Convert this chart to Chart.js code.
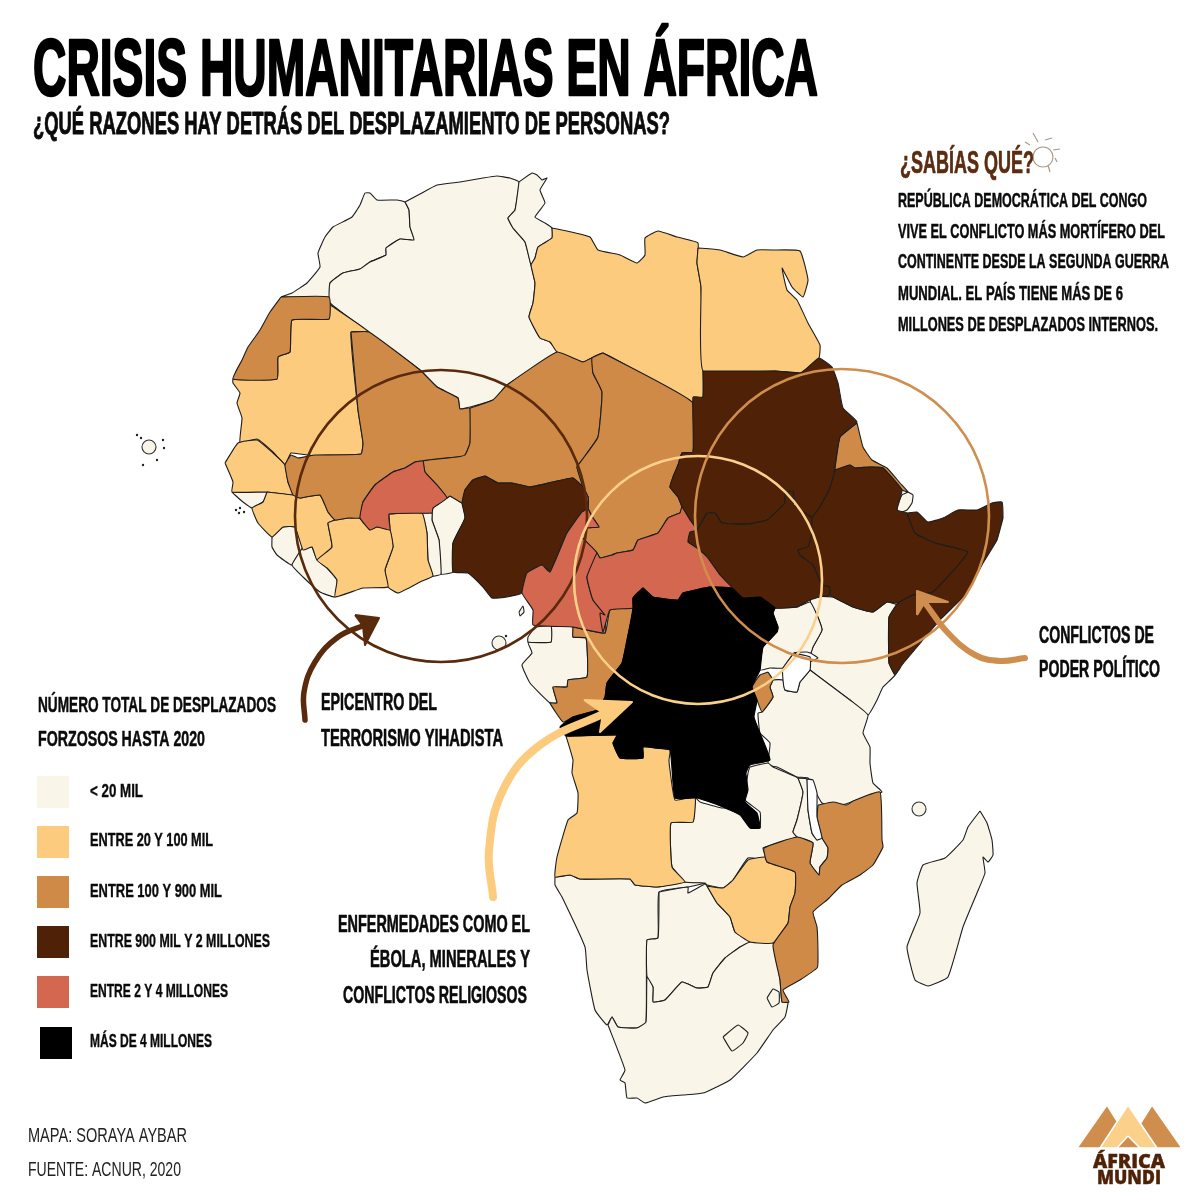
<!DOCTYPE html>
<html lang="es"><head><meta charset="utf-8"><title>Crisis humanitarias en África</title>
<style>html,body{margin:0;padding:0;background:#fff}canvas{display:block}</style>
<script src="https://cdn.jsdelivr.net/npm/chart.js@4"></script></head>
<body><canvas id="c" width="1200" height="1200"></canvas>
<script>
// ---- Map outlines, as x,y pairs in map units ----
const morocco=[281,297,292,293,307,283,320,267,318,253,325,237,333,227,352,217,360,205,365,193,370,193,377,200,397,200,405,202,409,210,410,227,414,240,400,239,386,248,386,255,370,262,360,269,343,273,330,283,329,297];
const algeria=[405,202,420,194,437,185,460,182,483,178,497,176,510,178,519,182,515,210,508,218,513,228,525,242,531,265,535,283,533,303,529,317,540,338,550,342,557,352,507,385,493,400,460,409,458,398,437,387,420,370,330,303,330,283,343,273,360,269,370,262,386,255,386,248,400,239,414,240,410,227,409,210];
const tunisia=[519,182,532,173,537,175,542,180,547,178,540,190,545,203,535,217,545,223,552,228,552,238,538,247,535,258,531,265,525,242,513,228,508,218,515,210];
const libya=[552,228,567,231,590,237,598,250,620,255,637,263,645,255,645,238,658,231,677,237,698,243,697,263,701,287,703,397,692,402,603,353,583,362,557,352,550,342,540,338,529,317,533,303,535,283,531,265,535,258,538,247,552,238];
const egypt=[698,248,720,250,743,257,757,250,773,250,800,251,808,280,803,297,792,287,782,268,787,290,797,300,808,323,820,345,819,358,805,370,800,373,775,371,703,371,701,287,697,263];
const sudan=[703,371,775,371,800,373,805,370,819,358,832,367,838,383,843,408,857,422,840,437,835,468,830,488,820,507,812,518,800,530,793,491,785,493,785,503,767,520,747,524,722,523,715,513,707,513,697,530,690,520,682,507,678,497,670,487,673,477,678,465,682,453,693,452,693,397,703,397];
const southSudan=[707,513,715,513,722,523,747,524,767,520,785,503,785,493,793,491,794,505,812,518,812,533,808,547,798,550,800,555,813,565,822,585,830,587,830,595,820,597,810,600,797,607,775,608,760,598,743,598,732,588,720,575,707,557,697,548,688,542,690,532,697,530];
const ethiopia=[835,470,850,465,855,468,870,467,883,468,902,490,897,510,907,513,915,533,935,543,968,552,933,592,913,595,898,603,887,602,873,612,853,607,833,597,830,595,830,587,822,585,813,565,800,555,798,550,808,547,812,533,812,518,820,507,830,488];
const eritrea=[857,423,863,447,872,460,887,468,900,483,908,492,902,490,883,468,870,467,855,468,850,465,835,470,840,437];
const djibouti=[908,492,913,495,912,503,907,510,898,513,897,507,902,495];
const somalia=[907,513,917,512,928,522,943,518,958,510,977,510,992,503,1002,502,1003,518,1002,522,997,540,983,563,967,593,940,620,917,647,902,665,895,675,889,663,889,617,898,603,913,595,933,592,968,552,935,543,915,533];
const kenya=[812,596,833,597,853,607,873,612,887,602,897,605,889,617,889,663,895,675,883,687,877,700,868,715,850,700,810,670,810,662,818,658,811,653,813,647,822,630,817,615,810,603];
const uganda=[775,608,797,607,810,602,817,615,822,630,813,647,811,653,807,652,794,653,783,668,770,668,760,670,763,647,777,632,778,627,773,613];
const lakeVictoria=[794,653,810,657,810,670,800,682,797,692,785,690,783,680,783,668];
const rwandaBurundi=[768,672,773,680,770,687,773,697,762,712,757,700,752,687,760,675];
const tanzania=[810,670,850,700,868,715,863,733,870,747,870,763,873,783,882,792,857,800,842,805,822,803,808,778,797,777,777,767,768,765,770,743,760,733,758,713,762,712,773,697,770,687,773,680,783,680,785,690,797,692,800,682];
const drc=[643,588,653,597,678,600,683,593,710,587,732,588,743,598,760,597,775,608,773,613,778,627,777,632,763,647,760,670,752,687,757,700,754,717,760,733,770,760,750,765,746,773,748,790,745,802,757,813,760,828,750,828,740,815,718,805,697,798,675,798,670,750,655,748,643,747,643,758,620,758,613,743,617,735,566,736,560,727,573,717,597,710,605,697,607,683,622,663,627,640,633,608,633,598];
const congo=[573,627,605,633,610,610,633,608,627,640,622,663,607,683,605,697,597,710,573,717,563,722,550,703,557,703,553,687,567,687,568,680,587,677,586,638,573,637];
const gabon=[551,626,573,627,573,637,586,638,587,677,568,680,567,687,553,687,557,703,550,703,530,683,522,665,532,653,528,642,551,642];
const eqGuinea=[535,627,551,626,551,642,528,642,528,637];
const bioko=[519,612,523,606,524,612,520,616];
const cameroon=[583,487,588,497,588,508,593,518,599,527,587,528,582,537,597,553,587,577,593,600,605,615,605,633,573,627,533,625,533,610,522,593,527,573,542,565,550,572,567,533,582,512,588,508];
const nigeria=[485,476,498,483,512,483,530,487,553,482,573,478,583,487,588,497,588,508,582,512,567,533,550,572,542,565,527,573,522,593,507,597,492,598,483,587,468,573,453,572,453,543,465,518,462,503,465,490,473,480];
const benin=[450,496,462,503,465,518,453,543,453,572,441,574,439,540,432,520,433,508,447,498];
const togo=[422,513,432,513,432,520,439,540,441,574,433,576,428,560,427,533];
const ghana=[389,514,422,513,427,533,428,560,433,576,420,582,398,593,388,587,385,570,393,547,390,530];
const burkina=[415,462,423,461,425,472,437,485,447,498,433,508,432,513,389,514,390,530,377,527,370,530,360,518,363,502,375,485,393,472,405,468];
const mali=[351,332,369,332,420,370,437,387,458,398,460,409,470,408,470,443,465,455,457,457,423,461,415,462,405,468,393,472,375,485,363,502,360,518,348,518,335,520,328,512,320,495,300,498,293,495,288,482,285,465,291,455,298,458,315,455,361,454,363,443,358,410];
const mauritania=[329,304,369,332,351,332,358,410,363,443,361,454,315,456,307,455,291,453,285,465,273,452,257,439,240,443,242,418,237,403,240,393,233,383,233,379,277,379,278,357,290,352,292,320,329,319];
const westernSahara=[281,297,329,297,329,319,292,320,290,352,278,357,277,379,233,379,242,360,248,347,260,330,270,312];
const senegal=[225,463,238,443,257,440,273,453,285,465,288,482,293,495,267,492,232,492,233,482];
const gambia=[233,481,263,482,257,476,245,478,233,477];
const guineaBissau=[232,492,267,492,263,502,252,508,243,502,235,495];
const guinea=[267,492,293,495,300,498,320,495,328,512,335,520,328,523,332,547,317,560,312,547,303,550,295,527,283,527,272,537,258,523,252,508,263,502];
const sierraLeone=[272,537,283,527,295,527,303,547,292,565,277,555,272,547];
const liberia=[303,547,312,547,317,560,327,568,337,580,335,597,320,592,303,577,292,565];
const ivoryCoast=[335,520,348,518,360,518,370,530,377,527,390,530,393,547,385,570,388,587,363,588,335,597,337,580,327,568,317,560,332,547,328,523];
const niger=[470,408,493,400,507,385,557,352,583,362,592,358,593,373,602,392,598,437,582,460,577,467,583,487,573,478,553,482,530,487,512,483,498,483,485,476,473,480,465,490,462,503,450,496,447,498,437,485,425,472,423,461,457,457,465,455,470,443];
const chad=[603,353,692,402,693,452,682,453,678,465,673,477,670,487,678,497,682,507,680,513,668,518,658,533,638,540,633,550,617,553,612,555,600,558,597,553,582,537,587,528,599,527,593,518,588,508,588,497,583,487,577,467,582,460,598,437,602,392,593,373,592,358];
const car=[680,513,682,507,690,520,697,530,690,532,688,542,697,548,707,557,720,575,732,588,710,587,683,593,678,600,653,597,643,588,633,598,633,608,610,610,603,632,600,613,605,615,593,600,587,577,597,553,600,558,612,555,617,553,633,550,638,540,658,533,668,518];
const angola=[566,736,617,735,613,743,620,758,643,758,643,747,655,748,670,750,669,760,670,770,675,800,695,797,693,822,671,823,672,867,685,882,657,887,635,885,630,879,580,879,570,875,555,877,557,857,568,820,577,813,578,793,572,773,573,760];
const namibia=[555,877,570,875,580,879,630,879,635,885,657,887,685,882,705,883,688,887,659,892,658,938,647,940,646,1022,637,1028,618,1027,612,1017,607,1025,595,1010,587,970,585,947,562,897,555,885];
const botswana=[659,892,688,887,688,893,705,884,707,886,717,903,730,917,735,932,750,942,740,947,725,958,713,973,708,987,697,988,682,982,665,1000,653,1002,653,987,647,977,647,940,658,938];
const zimbabwe=[707,886,723,888,733,880,748,860,765,857,767,862,795,872,795,893,790,907,788,923,773,943,750,942,735,932,730,917,717,903];
const zambia=[695,797,700,802,722,808,737,808,748,815,753,828,760,828,760,812,745,800,748,773,750,767,768,763,773,767,798,778,803,792,797,820,793,832,797,837,763,848,767,860,748,858,733,880,723,888,707,885,705,883,685,882,672,867,671,823,693,822];
const malawi=[798,778,807,779,808,810,812,833,817,840,822,838,828,848,827,858,820,867,819,875,810,863,813,843,797,837,793,832,797,820,803,792];
const lakeMalawi=[807,779,813,780,817,793,817,817,822,838,817,840,812,833,808,810];
const mozambique=[818,805,833,802,847,805,853,801,880,792,882,840,883,847,873,865,860,875,842,885,827,900,813,912,817,927,818,960,817,968,800,980,783,990,789,1002,782,1002,780,980,773,945,788,923,790,907,795,893,795,872,767,862,764,848,797,837,813,843,810,863,819,875,820,867,827,858,828,848,822,838,817,817];
const southAfrica=[608,1025,612,1017,618,1027,637,1028,646,1022,647,977,653,987,653,1002,665,1000,682,982,697,988,708,987,713,973,725,958,740,947,750,942,773,943,780,980,782,1002,788,1002,785,1017,773,1030,757,1053,730,1080,703,1093,683,1095,663,1097,645,1103,637,1098,627,1098,625,1083,620,1080,625,1070];
const eswatini=[767,998,773,989,779,992,779,1003,772,1007];
const lesotho=[723,1037,738,1025,748,1033,743,1043,732,1051];
const madagascar=[980,811,987,823,992,840,993,855,988,862,983,857,985,873,977,893,963,927,948,977,928,986,915,980,907,947,920,913,917,883,923,865,945,858,963,840,968,827];

// ---- Countries by displacement class ----
const classPale=[morocco,algeria,tunisia,djibouti,kenya,uganda,tanzania,gabon,eqGuinea,bioko,benin,togo,gambia,guineaBissau,sierraLeone,liberia,namibia,botswana,zambia,malawi,southAfrica,eswatini,lesotho,madagascar];
const classLight=[libya,egypt,ghana,mauritania,senegal,guinea,ivoryCoast,angola,zimbabwe];
const classMid=[eritrea,rwandaBurundi,congo,mali,westernSahara,niger,chad,mozambique];
const classDark=[sudan,southSudan,ethiopia,somalia,nigeria];
const classRed=[cameroon,burkina,car];
const classBlack=[drc];
const lakes=[lakeVictoria,lakeMalawi];
const smallIslands=[[149,447],[919,809],[499,643]];
const tinyIslands=[[137,435],[141,438],[163,440],[164,448],[157,460],[143,465],[506,636],[240,508],[236,510],[244,512],[239,513]];

// ---- Legend ----
const legendLabels=["< 20 MIL","ENTRE 20 Y 100 MIL","ENTRE 100 Y 900 MIL","ENTRE 900 MIL Y 2 MILLONES","ENTRE 2 Y 4 MILLONES","MÁS DE 4 MILLONES"];
const legendColors=["#F9F5E9","#FDCB7E","#CF8A47","#4F2207","#D4674F","#000000"];
const legendSwatchX=[53,53,53,53,53,56];
const legendSwatchY=[792,842,892,942,992,1043];

// ---- Circles ----
const circleCentres=[[441,516],[698,580],[842,516]];
const circleRadii=[146,124,147];
const circleColors=["#5A2A0C","#FAD08A","#CF8E4E"];

// ---- Arrows: shaft and head ----
const arrowBrownShaft=[[305,720],[304,692],[315,662],[338,637],[365,625]];
const arrowBrownHead=[[355,615],[379,618],[365,645],[363,626]];
const arrowOrangeShaft=[[1025,658],[1000,661],[975,655],[948,633],[925,603]];
const arrowOrangeHead=[[917,615],[917,591],[948,602],[925,602]];
const arrowYellowShaft=[[493,897],[489,850],[503,790],[540,745],[605,713]];
const arrowYellowHead=[[584,700],[632,702],[600,732],[603,713]];

// ---- Logo and lightbulb ----
const logoLeft=[[1107,1105],[1134,1148],[1077,1148]];
const logoRight=[[1152,1105],[1182,1148],[1125,1148]];
const logoMiddle=[[1128,1105],[1157,1148],[1100,1148]];
const logoInner=[[1128,1136],[1140,1148],[1117,1148]];
const bulbRays=[[[1033,133],[1038,142]],[[1045,140],[1052,138]],[[1053,150],[1060,149]],[[1055,158],[1057,162]],[[1048,165],[1050,172]],[[1025,142],[1030,145]]];

// ---- Texts ----
const texts=["CRISIS HUMANITARIAS EN ÁFRICA","¿QUÉ RAZONES HAY DETRÁS DEL DESPLAZAMIENTO DE PERSONAS?","¿SABÍAS QUÉ?","REPÚBLICA DEMOCRÁTICA DEL CONGO","VIVE EL CONFLICTO MÁS MORTÍFERO DEL","CONTINENTE DESDE LA SEGUNDA GUERRA","MUNDIAL. EL PAÍS TIENE MÁS DE 6","MILLONES DE DESPLAZADOS INTERNOS.","NÚMERO TOTAL DE DESPLAZADOS","FORZOSOS HASTA 2020","EPICENTRO DEL","TERRORISMO YIHADISTA","CONFLICTOS DE","PODER POLÍTICO","ENFERMEDADES COMO EL","ÉBOLA, MINERALES Y","CONFLICTOS RELIGIOSOS","MAPA: SORAYA AYBAR","FUENTE: ACNUR, 2020"];
// x start, x end, baseline, cap height, stroke weight, colour
const dark="#0b0b0b", brown="#5B2C0F", plain="#222";
const textLayout=[[33,818,95,58,2.6,"#000"],[33,670,134,22,.9,dark],[900,1034,173,23,.7,brown],[898,1147,207,15,.5,dark],[898,1165,238,15,.5,dark],[898,1169,268,15,.5,dark],[898,1123,300,15,.5,dark],[898,1158,331,15,.5,dark],[38,276,712,15.5,.5,dark],[38,205,746,15.5,.5,dark],[321,437,710,17,.6,dark],[321,503,746,17,.6,dark],[1039,1154,643,17,.6,dark],[1039,1160,677,17,.6,dark],[338,530,932,17,.6,dark],[370,530,967,17,.6,dark],[343,527,1003,17,.6,dark],[28,187,1142,15,0,plain],[28,181,1176,15,0,plain]];
const legendLabelLayout=[[90,143,797],[90,213,846],[90,222,897],[90,270,947],[90,228,997],[90,212,1047]];
const logoTexts=["ÁFRICA","MUNDI"];
const logoTextLayout=[[1093,1165,1168,14],[1097,1161,1184,14]];

const pts=a=>a.map(p=>({x:p[0],y:p[1]}));
function ring(flat){const r=[];for(let i=0;i<flat.length;i+=2)r.push({x:flat[i],y:flat[i+1]});r.push({x:flat[0],y:flat[1]});return r;}
const base={showLine:false,pointRadius:0,pointHoverRadius:0,tension:0};
function polyDs(data,color,border,bw,tension){return {...base,data,showLine:true,fill:'shape',backgroundColor:color,borderColor:border,borderWidth:bw,borderJoinStyle:'round',tension:tension||0};}
const paint=[];
[[classPale,0],[classLight,1],[classMid,2],[classDark,3],[classRed,4],[classBlack,5]].forEach(([list,k])=>list.forEach(f=>paint.push(polyDs(ring(f),legendColors[k],k==5?'#000':'#1d1d1d',1.1,.12))));
lakes.forEach(f=>paint.push(polyDs(ring(f),'#fff','#1d1d1d',1.1,.12)));
paint.push({...base,data:pts(smallIslands),pointRadius:7,pointBackgroundColor:'#F9F5E9',pointBorderColor:'#333',pointBorderWidth:1.1});
paint.push({...base,data:pts(tinyIslands),pointRadius:1.2,pointBackgroundColor:'#222',pointBorderColor:'#222',pointBorderWidth:0});
circleCentres.forEach((c,i)=>paint.push({...base,data:pts([c]),pointRadius:circleRadii[i],pointBackgroundColor:'rgba(0,0,0,0)',pointBorderColor:circleColors[i],pointBorderWidth:2.6}));
function arrow(sh,hd,col,w){
 paint.push({...base,data:pts(sh),showLine:true,tension:.4,borderColor:col,borderWidth:w,borderCapStyle:'round',fill:false});
 paint.push(polyDs(pts([...hd,hd[0]]),col,col,2));
}
arrow(arrowBrownShaft,arrowBrownHead,'#5A2A0C',5.5);
arrow(arrowOrangeShaft,arrowOrangeHead,'#CF8E4E',6);
arrow(arrowYellowShaft,arrowYellowHead,'#FDCB7E',8);
legendColors.forEach((c,i)=>paint.push({...base,data:[{x:legendSwatchX[i],y:legendSwatchY[i]}],pointStyle:'rect',pointRadius:22.6,pointBackgroundColor:c,pointBorderWidth:0,label:legendLabels[i]}));
paint.push(polyDs(pts([...logoLeft,logoLeft[0]]),'#CF8E4E','#fff',1.5));
paint.push(polyDs(pts([...logoRight,logoRight[0]]),'#CF8E4E','#fff',1.5));
paint.push(polyDs(pts([...logoMiddle,logoMiddle[0]]),'#FAD08A','#fff',1.5));
paint.push(polyDs(pts([...logoInner,logoInner[0]]),'#CF8E4E','#fff',1.5));
bulbRays.forEach(r=>paint.push({...base,data:pts(r),showLine:true,borderColor:'#a99a8c',borderWidth:1.2,fill:false}));
paint.push({...base,data:[{x:1043,y:157}],pointRadius:10,pointBackgroundColor:'rgba(0,0,0,0)',pointBorderColor:'#a99a8c',pointBorderWidth:1.2});

function fit(ctx,t,x0,x1,base,cap,sw,col,fam,w){
 const size=cap/0.72; ctx.save(); ctx.font=(w||'bold')+' '+size+'px '+fam; ctx.textBaseline='alphabetic';ctx.textAlign='left';
 const m=ctx.measureText(t).width; ctx.translate(x0,base); ctx.scale((x1-x0)/m,1);
 ctx.fillStyle=col; ctx.fillText(t,0,0);
 if(sw>0){ctx.strokeStyle=col;ctx.lineWidth=sw;ctx.lineJoin='round';ctx.strokeText(t,0,0);}
 ctx.restore();
}
const narrow='"Liberation Sans Narrow","Liberation Sans",sans-serif';
const textPlugin={id:'texts',afterDatasetsDraw(ch){const ctx=ch.ctx;
 texts.forEach((t,i)=>{const L=textLayout[i];fit(ctx,t,L[0],L[1],L[2],L[3],L[4],L[5],narrow,i>=17?'normal':'bold');});
 legendLabels.forEach((t,i)=>{const L=legendLabelLayout[i];fit(ctx,t,L[0],L[1],L[2],13.5,.4,dark,narrow);});
 logoTexts.forEach((t,i)=>{const L=logoTextLayout[i];fit(ctx,t,L[0],L[1],L[2],L[3],.4,'#4F2207','"Open Sans",sans-serif','800');});
}};
const bgPlugin={id:'bg',beforeDraw(ch){const c=ch.ctx;c.save();c.fillStyle='#fff';c.fillRect(0,0,1200,1200);c.restore();}};

new Chart(document.getElementById('c'),{type:'scatter',
 data:{datasets:paint.slice().reverse()},
 options:{responsive:false,animation:false,devicePixelRatio:1,events:[],layout:{padding:0,autoPadding:false},
  scales:{x:{type:'linear',display:false,min:0,max:1200},y:{type:'linear',display:false,min:0,max:1200,reverse:true}},
  plugins:{legend:{display:false},tooltip:{enabled:false},title:{display:false},filler:{propagate:false}}},
 plugins:[bgPlugin,textPlugin]});
</script></body></html>
